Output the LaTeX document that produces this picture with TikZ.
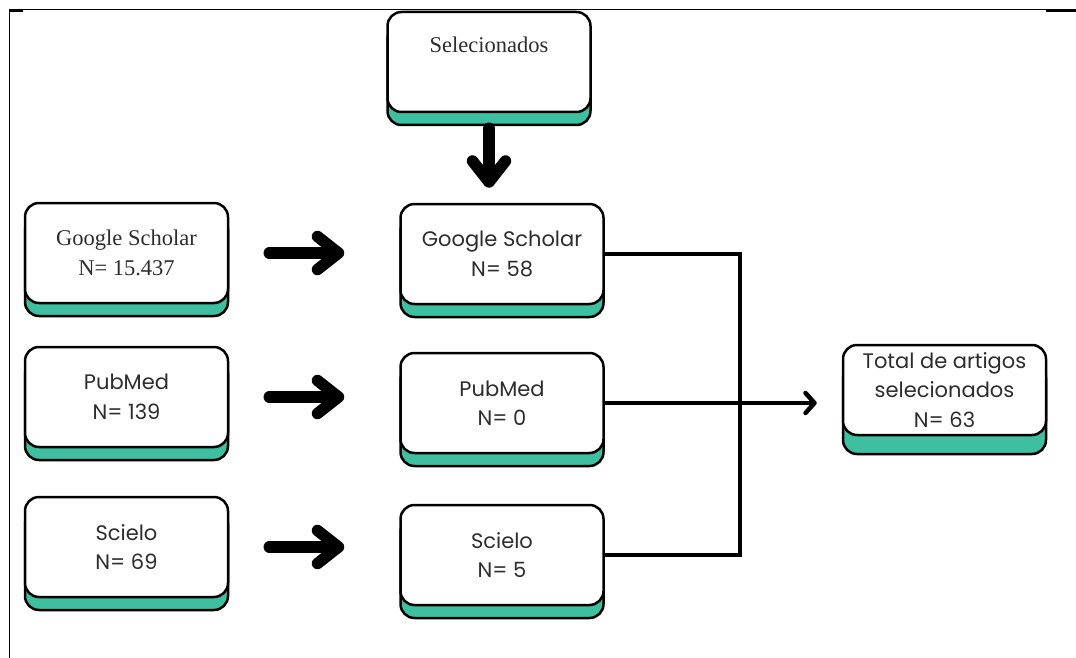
\documentclass[tikz,border=0pt]{standalone}
\usepackage{fontspec}
\setmainfont{Liberation Serif}
\newfontfamily\popfont{Poppins}
\usetikzlibrary{arrows.meta,shadows}
\definecolor{tealbar}{RGB}{61,191,160}
\definecolor{inkgray}{RGB}{45,45,45}

\begin{document}
\begin{tikzpicture}[x=1pt,y=-1pt,
  card/.style={draw=black, line width=2.5pt, rounded corners=14pt, fill=white,
    minimum width=203pt, minimum height=100pt, align=center, inner sep=0pt,
    general shadow={draw=black, line width=2.5pt, fill=tealbar, opacity=1,
      shadow xshift=0pt, shadow yshift=-#1}},
  card/.default=13pt,
  serif/.style={font=\fontsize{22.5}{30}\selectfont, text=inkgray},
  sans/.style={font=\popfont\fontsize{21}{29.5}\selectfont, text=inkgray},
  bigarrow/.style={line width=11.5pt, line cap=round,
    -{Straight Barb[round, length=21pt, width=33pt]}},
  conn/.style={line width=4.5pt},
]
\useasboundingbox (0,0) rectangle (1076,658);

% frame
\coordinate (tl) at (9.5,9.5);
\draw[line width=1.5pt] (1076,9.5) -- (tl) -- (9.5,658);
\draw[line width=3pt] (9,10.5) -- (23,10.5);
\draw[line width=3pt] (1046,10.5) -- (1076,10.5);

% top
\node[card] (sel) at (489,62) {};
\node[serif] (seltxt) at (489,45) {Selecionados};

% left column
\node[card, serif] (gs1) at (126.5,253) {Google Scholar\\N= 15.437};
\node[card, sans] (pm1) at (126.5,397) {PubMed\\N= 139};
\node[card, sans] (sc1) at (126.5,547) {Scielo\\N= 69};

% middle column
\node[card, sans] (gs2) at (502,254) {Google Scholar\\N= 58};
\node[card, sans] (pm2) at (502,403) {PubMed\\N= 0};
\node[card, sans] (sc2) at (502,555) {Scielo\\N= 5};

% result
\node[card=19pt, sans, minimum height=90pt] (total) at (944.5,390) {Total de artigos\\selecionados\\N= 63};

\draw[bigarrow, shorten <=15pt, shorten >=15pt] (sel.south) -- (sel.south |- gs2.north);
\draw[bigarrow, shorten <=40pt, shorten >=55pt] (gs1.east) -- (gs1.east -| gs2.west);
\draw[bigarrow, shorten <=40pt, shorten >=55pt] (pm1.east) -- (pm1.east -| pm2.west);
\draw[bigarrow, shorten <=40pt, shorten >=55pt] (sc1.east) -- (sc1.east -| sc2.west);

\coordinate (junc) at (740,403);
\draw[conn] (gs2.east) -| (junc) |- (sc2.east);
\draw[conn, -{Straight Barb[round, length=9pt, width=20pt]}, shorten >=25pt] (pm2.east) -- (pm2.east -| total.west);

\end{tikzpicture}
\end{document}
